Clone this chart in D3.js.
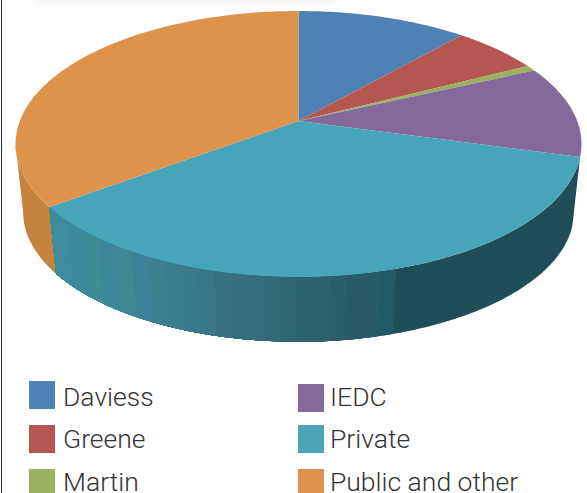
<!DOCTYPE html>
<html>
<head>
<meta charset="utf-8">
<script src="https://cdn.jsdelivr.net/npm/d3@7/dist/d3.min.js"></script>
<style>
html,body{margin:0;padding:0;background:#fff;}
svg{display:block;}
text{font-family:Roboto,"Liberation Sans",sans-serif;font-weight:300;fill:#333;}
</style>
</head>
<body>
<svg id="chart" width="587" height="493"></svg>
<script>
const categories = ["Daviess", "Greene", "Martin", "IEDC", "Private", "Public and other"];
const shares = [11.5, 5.9, 0.7, 11.2, 35.5, 35.2];
const faceColors = ["#4f81b3", "#b55651", "#9bb060", "#84699d", "#48a5b9", "#dd934b"];
const swatchColors = ["#4f81b3", "#b55651", "#9bb060", "#84699d", "#4da3b8", "#dd934b"];
const publicWallColor = "#c6833e";
// Shades of the lit front wall, running left to right
const privateWallShades = ["#3e8d9f", "#3c8a9e", "#3e8b98", "#3c869a", "#3e8894", "#3b8198", "#3b7f90",
  "#3c7c8c", "#3a7a8c", "#38768a", "#367282", "#356f7e", "#336c7a", "#306978", "#2f6672", "#2d6370",
  "#2e606e", "#2c5d6b", "#295a67", "#2a5a69", "#23586a"];
const privateWallEnd = "#1f4e59";

const svg = d3.select("#chart");
const color = d3.scaleOrdinal(categories, faceColors);
const swatch = d3.scaleOrdinal(categories, swatchColors);

// Soft grey haze along the top edge
svg.append("defs").append("filter").attr("id", "haze")
  .attr("x", "-10%").attr("y", "-200%").attr("width", "120%").attr("height", "500%")
  .append("feGaussianBlur").attr("stdDeviation", 3);
svg.append("rect").attr("x", 35).attr("y", -3).attr("width", 300).attr("height", 6)
  .attr("fill", "#eeeeee").attr("filter", "url(#haze)");

// Perspective view of a flat disc: the near edge looks larger than the far edge
const tilt = 0.173;
function projector(cx, cy, scale) {
  return a => {
    const X = Math.sin(a), Y = Math.cos(a), w = 1 + tilt * Y;
    return [cx + scale * 278.7 * X / w, cy - scale * 129 * Y / w];
  };
}
const topRim = projector(298.5, 121, 1);
const baseRim = projector(298.5, 190, 0.973);
const apex = [298.5, 121];

const arcs = d3.pie().value(d => d).sort(null)(shares);
const line = d3.line();
const steps = (a0, a1) => d3.range(0, 1.0001, 1 / Math.max(2, Math.ceil(Math.abs(a1 - a0) * 60)))
  .map(t => a0 + (a1 - a0) * t);

function wallPath(a0, a1) {
  const angles = steps(a0, a1);
  return line(angles.map(topRim).concat(angles.slice().reverse().map(baseRim))) + "Z";
}

// Side wall: the visible part of the rim runs from the purple edge round to the left silhouette
const privateArc = arcs[4];
const publicArc = arcs[5];
const silhouette = Math.PI * 2 - Math.acos(-tilt);

svg.append("path")
  .attr("d", wallPath(publicArc.startAngle, silhouette))
  .attr("fill", publicWallColor);

// The banded wall is painted from its dark end leftwards, each band covering everything
// still to its left, so neighbouring bands never leave a seam
const darkFrom = 396;
const wallX = a => topRim(a)[0];
const shade = d3.scaleQuantize().domain([wallX(privateArc.endAngle), darkFrom]).range(privateWallShades);
const samples = d3.range(privateArc.endAngle, privateArc.startAngle, -0.001);
const angleAtX = x => samples[d3.bisector(wallX).center(samples, x)];
const bandEnds = [...shade.thresholds(), darkFrom].reverse();

const wall = svg.append("g");
wall.append("path")
  .attr("d", wallPath(privateArc.startAngle, privateArc.endAngle))
  .attr("fill", privateWallEnd);
wall.selectAll("path.band").data(bandEnds).join("path")
  .attr("class", "band")
  .attr("d", x => wallPath(angleAtX(x), privateArc.endAngle))
  .attr("fill", x => shade(x - 1));

// Top face of every slice
svg.append("g").selectAll("path").data(arcs).join("path")
  .attr("d", d => line([apex].concat(steps(d.startAngle, d.endAngle).map(topRim))) + "Z")
  .attr("fill", (d, i) => color(categories[i]));

// Frame rule on the left edge
svg.append("line").attr("x1", 1.5).attr("x2", 1.5).attr("y1", 0).attr("y2", 493)
  .attr("stroke", "#2a2a2a").attr("stroke-width", 1);

// Legend in two columns
const legendRows = [[29, 381, 63, 406], [29, 425, 63, 448], [29, 469, 63, 491],
                    [298, 384, 330, 406], [298, 425, 330, 448], [298, 469, 330, 491]];
const legend = svg.append("g").selectAll("g").data(categories).join("g");
legend.append("rect")
  .attr("x", (d, i) => legendRows[i][0]).attr("y", (d, i) => legendRows[i][1])
  .attr("width", 26).attr("height", 28)
  .attr("fill", d => swatch(d));
legend.append("text")
  .attr("x", (d, i) => legendRows[i][2]).attr("y", (d, i) => legendRows[i][3])
  .attr("font-size", 26.5)
  .text(d => d);
</script>
</body>
</html>
